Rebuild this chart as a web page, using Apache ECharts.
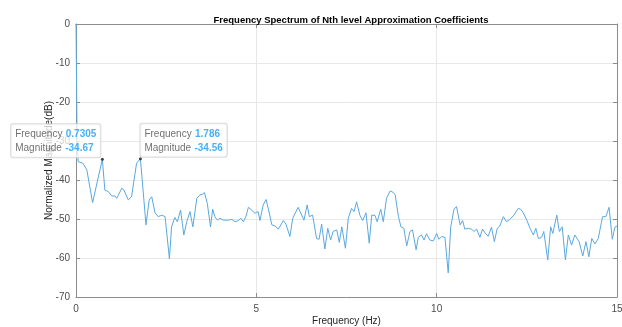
<!DOCTYPE html>
<html>
<head>
<meta charset="utf-8">
<script src="https://cdn.jsdelivr.net/npm/echarts@6/dist/echarts.min.js"></script>
<style>
  html, body { margin: 0; padding: 0; background: #fff; }
  #chart { width: 622px; height: 327px; }
</style>
</head>
<body>
<div id="chart"></div>
<script>
// spectrum
const freqHz = [
  0, 0.03, 0.06, 0.19, 0.30, 0.46, 0.7305, 0.80, 0.90, 0.99, 1.08, 1.13, 1.27, 1.33, 1.45, 1.54, 1.68, 1.786,
  1.94, 2.03, 2.10, 2.19, 2.28, 2.38, 2.47, 2.51, 2.59, 2.65, 2.74, 2.81, 2.90, 2.99, 3.07, 3.16, 3.24,
  3.35, 3.44, 3.50, 3.56, 3.64, 3.73, 3.79, 3.85, 3.92, 3.99, 4.08, 4.22, 4.32, 4.41, 4.50, 4.57, 4.64,
  4.71, 4.78, 4.87, 4.96, 5.05, 5.10, 5.19, 5.27, 5.33, 5.43, 5.52, 5.61, 5.75, 5.82, 5.93, 6.01, 6.16,
  6.32, 6.41, 6.47, 6.56, 6.67, 6.74, 6.81, 6.90, 6.98, 7.06, 7.13, 7.23, 7.30, 7.37, 7.47, 7.55, 7.64,
  7.71, 7.78, 7.87, 7.95, 8.04, 8.13, 8.20, 8.29, 8.35, 8.45, 8.52, 8.61, 8.71, 8.80, 8.85, 8.94, 9.01,
  9.09, 9.17, 9.26, 9.33, 9.43, 9.49, 9.58, 9.65, 9.72, 9.81, 9.91, 10.00, 10.06, 10.14, 10.23, 10.32,
  10.39, 10.48, 10.55, 10.65, 10.72, 10.78, 10.88, 10.97, 11.03, 11.11, 11.20, 11.27, 11.35, 11.43,
  11.52, 11.60, 11.68, 11.75, 11.85, 11.94, 12.03, 12.14, 12.26, 12.33, 12.40, 12.50, 12.59, 12.68,
  12.75, 12.82, 12.91, 12.97, 13.08, 13.16, 13.22, 13.33, 13.40, 13.48, 13.57, 13.65, 13.74, 13.83,
  13.95, 14.05, 14.14, 14.22, 14.30, 14.39, 14.48, 14.60, 14.69, 14.78, 14.87, 14.94, 15.0
]
const magDb = [
  0, -30, -35.3, -35.7, -37.4, -45.8, -34.67, -42.6, -43.0, -44.1, -44.1, -44.7, -42.1, -42.6, -45.1, -44.3, -35.7, -34.56,
  -51.5, -45.1, -44.3, -48.4, -49.4, -49.0, -49.4, -49.2, -60.2, -52.0, -49.6, -50.7, -47.7, -54.1, -50.7, -48.1, -52.0,
  -44.7, -43.8, -43.7, -43.2, -46.0, -52.0, -47.5, -49.4, -50.3, -49.8, -50.3, -50.3, -50.1, -50.7, -50.4, -49.8, -50.7,
  -49.4, -47.0, -47.7, -48.5, -48.1, -50.4, -46.4, -45.0, -47.3, -51.5, -51.8, -52.6, -50.4, -51.3, -54.5, -49.8, -47.0,
  -50.3, -46.4, -49.4, -49.0, -55.0, -55.2, -51.3, -57.7, -52.4, -55.4, -53.2, -52.8, -56.0, -52.0, -57.5, -49.8, -47.3,
  -48.1, -45.6, -49.0, -50.4, -48.4, -56.2, -49.0, -49.1, -50.7, -47.5, -50.7, -44.7, -42.8, -43.2, -43.8, -49.4, -52.0,
  -52.4, -56.9, -53.2, -52.8, -57.9, -54.7, -54.1, -55.4, -53.8, -55.4, -55.6, -53.7, -55.2, -54.5, -54.7, -63.8,
  -52.0, -47.5, -46.8, -51.5, -50.4, -52.6, -52.4, -52.6, -53.2, -52.6, -54.7, -52.6, -53.7, -54.4,
  -52.1, -55.8, -52.4, -51.8, -49.4, -50.7, -50.1, -49.0, -47.3, -47.5, -48.4, -50.3, -52.4, -54.1,
  -52.4, -55.0, -54.7, -53.2, -60.5, -52.0, -53.7, -49.0, -53.2, -52.0, -60.5, -54.1, -56.7, -54.1,
  -55.8, -59.5, -55.8, -59.7, -55.0, -56.4, -55.0, -49.4, -49.4, -47.0, -55.2, -52.1, -51.8
]
// data tips
const tipFreq = [0.7305, 1.786]
const tipMag = [-34.67, -34.56]
const xTicks = [0, 5, 10, 15]
const yTicks = [0, -10, -20, -30, -40, -50, -60, -70]

const chart = echarts.init(document.getElementById('chart'))
const font = 'Liberation Sans, Arial, sans-serif'
const axisGray = '#8c8c8c'
const labelGray = '#4d4d4d'

const boxAxis = {
  axisLine: { show: true, onZero: false, lineStyle: { color: axisGray, width: 1 } },
  axisTick: { show: true, inside: true, length: 4, lineStyle: { color: axisGray } },
  axisLabel: { show: false },
  splitLine: { show: false },
}

chart.setOption({
  animation: false,
  title: {
    text: 'Frequency Spectrum of Nth level Approximation Coefficients',
    left: 346, top: 10, textAlign: 'center',
    textStyle: { fontFamily: font, fontSize: 9.5, fontWeight: 'bold', color: '#000' },
  },
  grid: { left: 76, right: 5, top: 24, bottom: 30, outerBoundsMode: 'none' },
  xAxis: [{
    type: 'value', min: 0, max: 15, interval: 5,
    name: 'Frequency (Hz)', nameLocation: 'middle', nameGap: 19, nameMoveOverlap: false,
    nameTextStyle: { fontFamily: font, fontSize: 10, color: '#262626' },
    axisLine: { show: true, onZero: false, lineStyle: { color: axisGray } },
    axisTick: { show: true, inside: true, length: 4, lineStyle: { color: axisGray } },
    axisLabel: { fontFamily: font, fontSize: 10, color: labelGray, margin: 7,
      formatter: (v) => (xTicks.includes(v) ? String(v) : '') },
    splitLine: { show: true, lineStyle: { color: '#e8e8e8' } },
  }, {
    type: 'value', min: 0, max: 15, interval: 5, position: 'top', ...boxAxis,
  }],
  yAxis: [{
    type: 'value', min: -70, max: 0, interval: 10,
    name: 'Normalized Magnitude(dB)', nameLocation: 'middle', nameGap: 22, nameMoveOverlap: false,
    nameTextStyle: { fontFamily: font, fontSize: 10, color: '#262626' },
    axisLine: { show: true, onZero: false, lineStyle: { color: axisGray } },
    axisTick: { show: true, inside: true, length: 4, lineStyle: { color: axisGray } },
    axisLabel: { fontFamily: font, fontSize: 10, color: labelGray, margin: 6,
      formatter: (v) => (yTicks.includes(v) ? String(v) : '') },
    splitLine: { show: true, lineStyle: { color: '#e8e8e8' } },
  }, {
    type: 'value', min: -70, max: 0, interval: 10, position: 'right', ...boxAxis,
  }],
  series: [
    {
      type: 'line',
      data: freqHz.map((f, i) => [f, magDb[i]]),
      symbol: 'none',
      lineStyle: { color: '#5aa8de', width: 1 },
      z: 2,
    },
    {
      type: 'scatter',
      data: tipFreq.map((f, i) => [f, tipMag[i]]),
      symbol: 'circle', symbolSize: 3,
      itemStyle: { color: '#1a1a1a' },
      z: 5,
      label: {
        show: true,
        formatter: (p) => `{k|Frequency} {v|${tipFreq[p.dataIndex]}}\n{k|Magnitude} {v|${tipMag[p.dataIndex]}}`,
        backgroundColor: 'rgba(255,255,255,0.95)',
        borderColor: '#d0d0d0', borderWidth: 1, borderRadius: 2,
        padding: [3, 4, 2, 4],
        rich: {
          k: { fontFamily: font, fontSize: 10, color: '#4d4d4d', lineHeight: 14 },
          v: { fontFamily: font, fontSize: 10, fontWeight: 'bold', color: '#1a9cf5', lineHeight: 14 },
        },
      },
      labelLayout: (params) => params.dataIndex === 0
        ? { x: params.rect.x + params.rect.width / 2 - params.labelRect.width, y: params.rect.y + params.rect.height / 2 - params.labelRect.height, align: 'left', verticalAlign: 'top' }
        : { x: params.rect.x + params.rect.width / 2, y: params.rect.y + params.rect.height / 2 - params.labelRect.height, align: 'left', verticalAlign: 'top' },
    },
  ],
})
</script>
</body>
</html>
